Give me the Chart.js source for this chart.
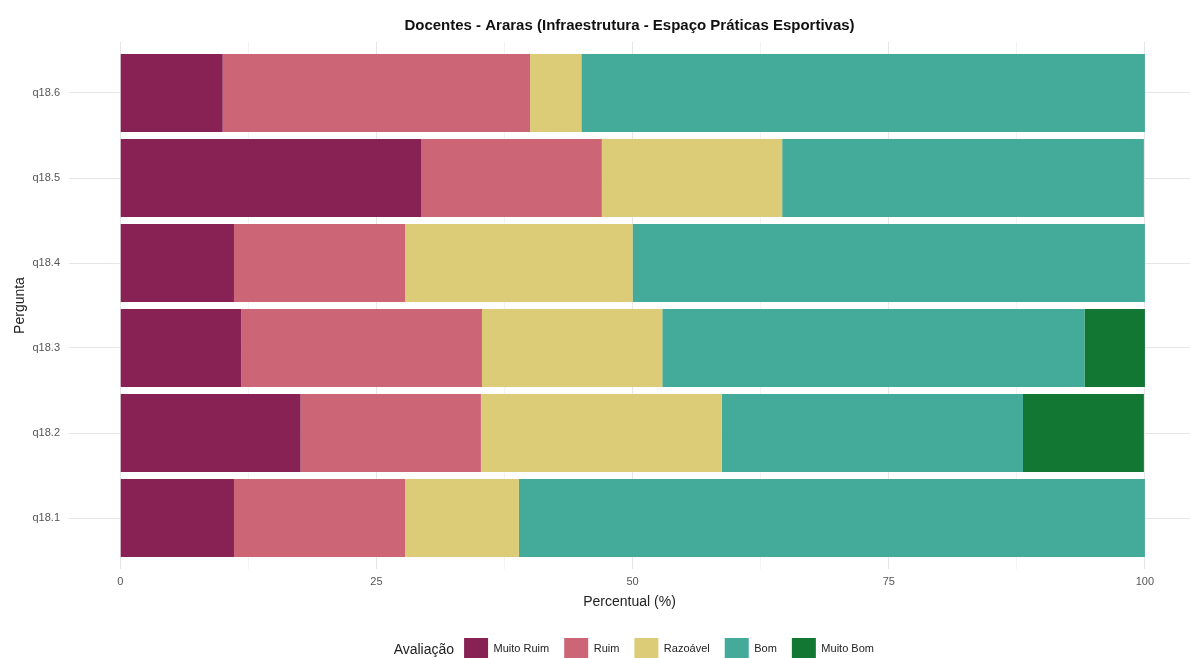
<!DOCTYPE html>
<html>
<head>
<meta charset="utf-8">
<script src="https://cdn.jsdelivr.net/npm/chart.js@4/dist/chart.umd.min.js"></script>
<style>
  html, body { margin: 0; padding: 0; background: #fff; }
</style>
</head>
<body>
<canvas id="chart" width="1190" height="658"></canvas>
<script>
// perguntas de baixo para cima
const perguntas = ['q18.1', 'q18.2', 'q18.3', 'q18.4', 'q18.5', 'q18.6'];
const muitoRuim = [11.1, 17.6, 11.8, 11.1, 29.4, 10.0];
const ruim = [16.7, 17.6, 23.5, 16.7, 17.6, 30.0];
const razoavel = [11.1, 23.5, 17.6, 22.2, 17.6, 5.0];
const bom = [61.1, 29.4, 41.2, 50.0, 35.3, 55.0];
const muitoBom = [0, 11.8, 5.9, 0, 0, 0];
const xTicks = [0, 25, 50, 75, 100];
const xMinorTicks = [12.5, 37.5, 62.5, 87.5];

Chart.defaults.font.family = '"Liberation Sans", Arial, sans-serif';

function serie(label, values, color) {
  return {
    label: label,
    data: values.map((v, i) => ({ x: v, y: i + 1 })),
    backgroundColor: color,
    borderWidth: 0,
    barPercentage: 0.92,
    categoryPercentage: 1
  };
}

// legenda deslocada como no ggplot + titulo "Avaliação" a esquerda
const legendaAvaliacao = {
  id: 'legendaAvaliacao',
  afterLayout(chart) {
    const lg = chart.legend;
    lg.left += 74;
    lg.right += 74;
    lg.top += 12;
    lg.bottom += 12;
  },
  afterDraw(chart) {
    const box = chart.legend.legendHitBoxes[0];
    if (!box) return;
    const ctx = chart.ctx;
    ctx.save();
    ctx.font = '14px "Liberation Sans", Arial, sans-serif';
    ctx.fillStyle = '#222';
    ctx.textAlign = 'right';
    ctx.textBaseline = 'middle';
    ctx.fillText('Avaliação', box.left - 10, box.top + box.height / 2 + 1);
    ctx.restore();
  }
};

const ctx = document.getElementById('chart');
new Chart(ctx, {
  type: 'bar',
  data: {
    datasets: [
      serie('Muito Ruim', muitoRuim, '#882255'),
      serie('Ruim', ruim, '#CC6677'),
      serie('Razoável', razoavel, '#DDCC77'),
      serie('Bom', bom, '#44AA99'),
      serie('Muito Bom', muitoBom, '#117733')
    ]
  },
  options: {
    responsive: false,
    animation: false,
    indexAxis: 'y',
    layout: { padding: 0 },
    plugins: {
      title: {
        display: true,
        text: 'Docentes - Araras (Infraestrutura - Espaço Práticas Esportivas)',
        color: '#111',
        fullSize: false,
        font: { size: 15, weight: 'bold' },
        padding: { top: 17, bottom: 7 }
      },
      legend: {
        position: 'bottom',
        labels: {
          boxWidth: 24,
          boxHeight: 22,
          padding: 15,
          color: '#222',
          font: { size: 11 }
        }
      },
      tooltip: { enabled: false }
    },
    scales: {
      x: {
        type: 'linear',
        stacked: true,
        min: -5,
        max: 104.4,
        afterBuildTicks(scale) {
          scale.ticks = xTicks.concat(xMinorTicks).sort((a, b) => a - b).map(v => ({ value: v }));
        },
        ticks: {
          autoSkip: false,
          maxRotation: 0,
          padding: 6,
          color: '#555',
          font: { size: 11 },
          callback: v => xTicks.includes(v) ? v : ''
        },
        grid: {
          drawTicks: false,
          color: c => (c.tick && xTicks.includes(c.tick.value)) ? '#e6e6e6' : '#f3f3f3'
        },
        border: { display: false },
        title: {
          display: true,
          text: 'Percentual (%)',
          color: '#222',
          font: { size: 14 },
          padding: { top: 0, bottom: 0 }
        }
      },
      y: {
        type: 'linear',
        stacked: true,
        offset: false,
        min: 0.4,
        max: 6.6,
        afterBuildTicks(scale) {
          scale.ticks = perguntas.map((p, i) => ({ value: i + 1 }));
        },
        afterFit(scale) {
          scale.width = 69;
        },
        ticks: {
          padding: 9,
          color: '#555',
          font: { size: 11 },
          callback: v => perguntas[v - 1]
        },
        grid: {
          offset: false,
          drawTicks: false,
          color: '#e6e6e6'
        },
        border: { display: false },
        title: {
          display: true,
          text: 'Pergunta',
          color: '#222',
          font: { size: 14 },
          padding: { top: 12, bottom: 0 }
        }
      }
    }
  },
  plugins: [legendaAvaliacao]
});
</script>
</body>
</html>
